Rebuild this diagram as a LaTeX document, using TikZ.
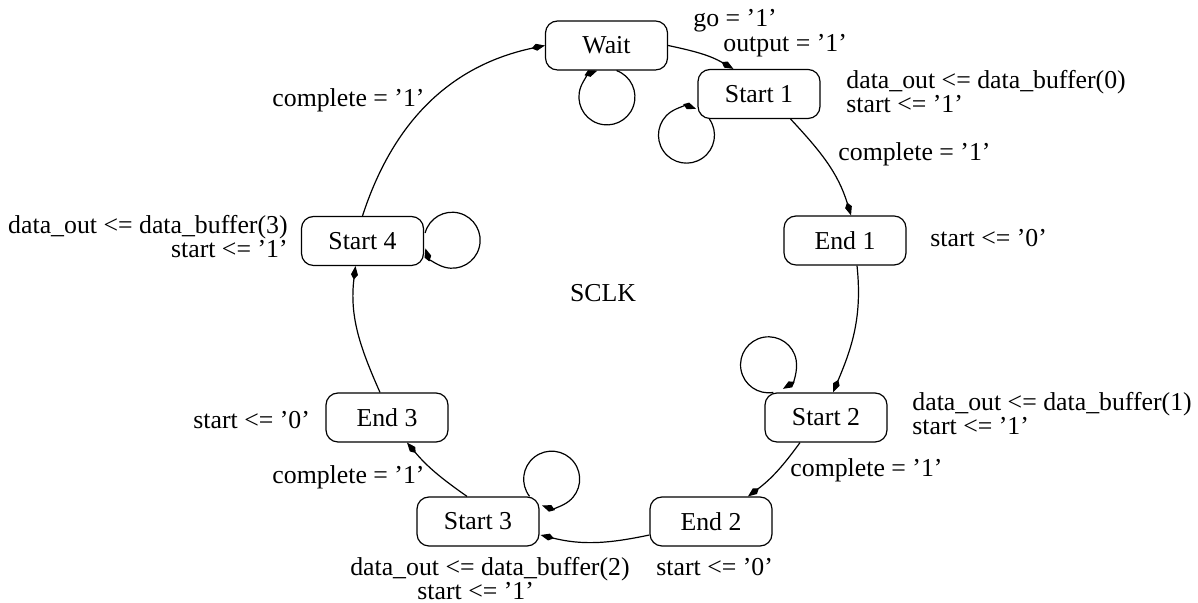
\documentclass[tikz,border=0pt]{standalone}
\usepackage{fontspec}
\setmainfont{Liberation Serif}
\usetikzlibrary{arrows.meta,calc}
\begin{document}
\begin{tikzpicture}[x=0.5pt,y=0.5pt,
  font=\fontsize{12.9}{15}\selectfont,
  state/.style={draw, rounded corners=6pt, minimum width=61pt, minimum height=24.5pt, inner sep=0pt, line width=0.6pt},
  lbl/.style={inner sep=0pt},
  arr/.style={line width=0.6pt, -{Kite[length=6.8pt,width=3.5pt,inset=2.5pt]}}]
\useasboundingbox (0,0) rectangle (1198,603);
% states
\node[state] (wait) at (606.5,557.5) {Wait};
\node[state] (s1) at (759,509) {Start 1};
\node[state] (e1) at (845,362.5) {End 1};
\node[state] (s2) at (826,185.5) {Start 2};
\node[state] (e2) at (711,81.5) {End 2};
\node[state] (s3) at (478,81.5) {Start 3};
\node[state] (e3) at (387,185.5) {End 3};
\node[state] (s4) at (362.5,362) {Start 4};
\node[lbl] (sclk) at (603,310) {SCLK};
% transitions
\draw[arr] (wait.east) to[out=-12,in=150] ($(s1.north west)+(36,0)$);
\draw[arr] ($(s1.south east)+(-30,0)$) to[out=-47,in=107] ($(e1.north)+(6,0)$);
\draw[arr] ($(e1.south)+(12,0)$) to[out=-84,in=67] ($(s2.north)+(7,0)$);
\draw[arr] ($(s2.south)+(-26,0)$) to[out=-126,in=37] ($(e2.north)+(37,0)$);
\draw[arr] ($(e2.west)+(0,-13.5)$) to[out=192,in=-14] ($(s3.east)+(1,-13.5)$);
\draw[arr] ($(s3.north)+(-11,0)$) to[out=145,in=-50] ($(e3.south)+(20,0)$);
\draw[arr] ($(e3.north)+(-7,0)$) to[out=114,in=-97] ($(s4.south)+(-7,0)$);
\draw[arr] (s4.north) to[out=72,in=192] (wait.west);
% self loops
\draw[arr] ($(wait.south)+(10,0)$) arc[start angle=70, end angle=-250, radius=14pt];
\draw[arr] ($(s1.south west)+(12,0)$) arc[start angle=35, end angle=-290, radius=14pt];
\draw[arr] ($(s2.north west)+(9,0)$) arc[start angle=-80, end angle=-419, radius=14pt];
\draw[arr] ($(s3.north east)+(-10,0)$) arc[start angle=-142, end angle=-470, radius=14pt];
\draw[arr] ($(s4.east)+(1,8)$) arc[start angle=165, end angle=-163, radius=14pt];
% labels
\node[lbl, anchor=base west] (lgo) at (693,576) {go = ’1’};
\node[lbl, anchor=base west] (lout) at (723,551) {output = ’1’};
\node[lbl, anchor=base west] (ls1a) at (846,514) {data\_out <= data\_buffer(0)};
\node[lbl, anchor=base west] (ls1b) at (846,490) {start <= ’1’};
\node[lbl, anchor=base west] (lc1) at (838,442) {complete = ’1’};
\node[lbl, anchor=base west] (le1) at (930,356) {start <= ’0’};
\node[lbl, anchor=base west] (ls2a) at (912,192) {data\_out <= data\_buffer(1)};
\node[lbl, anchor=base west] (ls2b) at (912,168) {start <= ’1’};
\node[lbl, anchor=base west] (lc2) at (790,126) {complete = ’1’};
\node[lbl, anchor=base west] (le2) at (656,27) {start <= ’0’};
\node[lbl, anchor=base east] (ls3a) at (630,27) {data\_out <= data\_buffer(2)};
\node[lbl, anchor=base west] (ls3b) at (417,3) {start <= ’1’};
\node[lbl, anchor=base west] (lc3) at (272,119) {complete = ’1’};
\node[lbl, anchor=base west] (le3) at (193,174) {start <= ’0’};
\node[lbl, anchor=base east] (ls4a) at (288,369) {data\_out <= data\_buffer(3)};
\node[lbl, anchor=base east] (ls4b) at (288,345) {start <= ’1’};
\node[lbl, anchor=base west] (lc4) at (272,496) {complete = ’1’};
\end{tikzpicture}
\end{document}
